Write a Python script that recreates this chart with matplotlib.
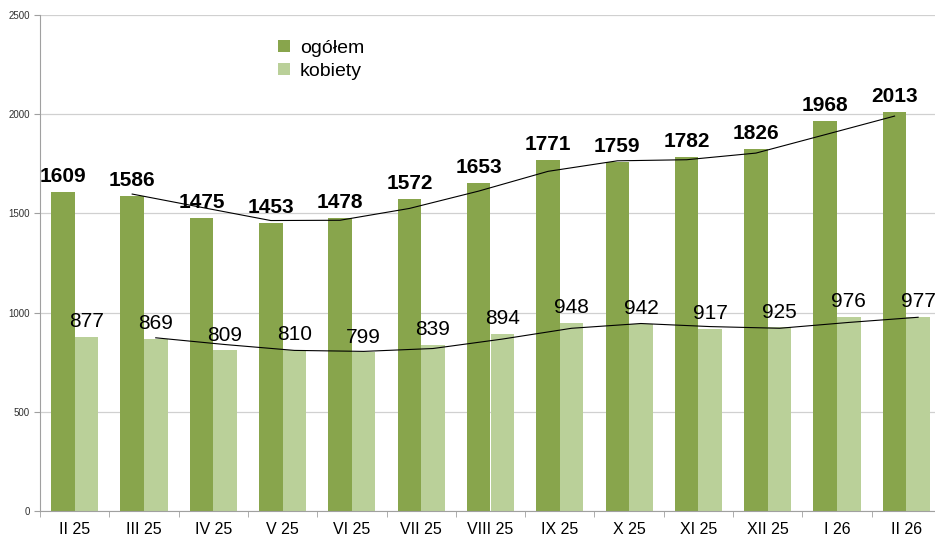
import numpy as np
import matplotlib.pyplot as plt

months = ['II 25', 'III 25', 'IV 25', 'V 25', 'VI 25', 'VII 25', 'VIII 25',
          'IX 25', 'X 25', 'XI 25', 'XII 25', 'I 26', 'II 26']
ogolem = [1609, 1586, 1475, 1453, 1478, 1572, 1653, 1771, 1759, 1782, 1826, 1968, 2013]
kobiety = [877, 869, 809, 810, 799, 839, 894, 948, 942, 917, 925, 976, 977]

plt.rcParams['font.family'] = ['Liberation Sans', 'DejaVu Sans']

fig = plt.figure(figsize=(9.35, 5.36), dpi=100)
ax = fig.add_axes([40 / 935, 25 / 536, 901 / 935, 496 / 536])

x = np.arange(len(months))
w = 0.34
c1 = '#88a54c'
c2 = '#bad099'

ax.bar(x - w / 2, ogolem, w, color=c1, label='ogółem', zorder=2)
ax.bar(x + w / 2, kobiety, w, color=c2, label='kobiety', zorder=2)

for xi, v in zip(x, ogolem):
    ax.text(xi - w / 2, v + 30, str(v), ha='center', va='bottom',
            fontsize=15, fontweight='bold', zorder=4)
for xi, v in zip(x, kobiety):
    ax.text(xi + w / 2, v + 30, str(v), ha='center', va='bottom',
            fontsize=15, zorder=4)

# trend lines (2-period moving average)
ma1 = [(a + b) / 2 for a, b in zip(ogolem[:-1], ogolem[1:])]
ma2 = [(a + b) / 2 for a, b in zip(kobiety[:-1], kobiety[1:])]
ax.plot(x[1:] - w / 2, ma1, color='black', lw=0.8, zorder=3)
ax.plot(x[1:] + w / 2, ma2, color='black', lw=0.8, zorder=3)

ax.set_xlim(-0.5, len(months) - 0.5)
ax.set_ylim(0, 2500)
ax.set_yticks(range(0, 2501, 500))
ax.yaxis.grid(True, color='#d0d0d0', lw=0.9, zorder=0)
ax.set_axisbelow(True)

ax.set_xticks(x)
ax.set_xticklabels(months, fontsize=11.5)
ax.set_xticks(np.arange(-0.5, len(months), 1), minor=True)
ax.tick_params(axis='x', which='major', length=0, pad=8)
ax.tick_params(axis='x', which='minor', length=4, color='#a0a0a0')
ax.tick_params(axis='y', labelsize=7, length=4, color='#a0a0a0', labelcolor='#303030')

for s in ['top', 'right']:
    ax.spines[s].set_visible(False)
for s in ['left', 'bottom']:
    ax.spines[s].set_color('#a0a0a0')

ax.legend(loc='upper left', bbox_to_anchor=(0.245, 0.985), frameon=False,
          fontsize=14, handlelength=0.6, handleheight=0.6, handletextpad=0.5,
          labelspacing=0.3)

fig.savefig('out.png', dpi=100)
